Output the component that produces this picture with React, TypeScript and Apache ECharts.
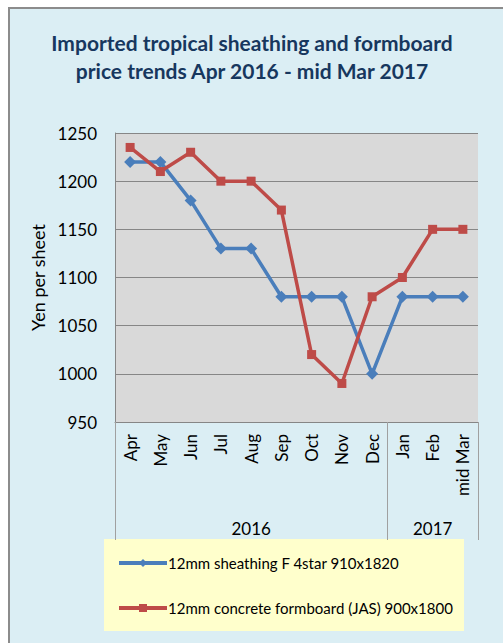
import React, { useEffect, useRef } from "react";
import * as echarts from "echarts";

const months = ["Apr", "May", "Jun", "Jul", "Aug", "Sep", "Oct", "Nov", "Dec", "Jan", "Feb", "mid Mar"];
const sheathing = [1220, 1220, 1180, 1130, 1130, 1080, 1080, 1080, 1000, 1080, 1080, 1080];
const formboard = [1235, 1210, 1230, 1200, 1200, 1170, 1020, 990, 1080, 1100, 1150, 1150];
const yearBreaks = [0, 9, 12];
const yearLabelPos = [4.5, 10.5];
const yearLabels = ["2016", "2017"];
const seriesNames = ["12mm sheathing F 4star 910x1820", "12mm concrete formboard (JAS) 900x1800"];
const titleText = "Imported tropical sheathing and formboard\nprice trends Apr 2016 - mid Mar 2017";
const yName = "Yen per sheet";

const FONT = "Lato";

export default function App() {
  const ref = useRef<HTMLDivElement>(null);
  useEffect(() => {
    if (!ref.current) return;
    const chart = echarts.init(ref.current, undefined, { renderer: "svg" });
    chart.setOption({
      animation: false,
      backgroundColor: "transparent",
      textStyle: { fontFamily: FONT },
      title: {
        text: titleText,
        left: 247,
        top: 23,
        textAlign: "center",
        textStyle: { fontFamily: FONT, fontSize: 21, fontWeight: "bold", color: "#17375E", lineHeight: 28, align: "center" },
      },
      graphic: [
        {
          type: "rect",
          z: 0,
          shape: { x: 104, y: 539, width: 360, height: 92 },
          style: { fill: "#FFFFCC", stroke: "none" },
        },
      ],
      legend: {
        orient: "vertical",
        left: 104,
        top: 539,
        padding: [14, 10, 13, 13],
        itemWidth: 48,
        itemHeight: 10,
        itemGap: 25,
        lineStyle: { width: 4 },
        textStyle: { fontFamily: FONT, fontSize: 15, color: "#000", lineHeight: 20, padding: [0, 0, 0, -4] },
        data: seriesNames,
      },
      grid: {
        left: 115,
        top: 133,
        width: 363,
        height: 289,
        show: true,
        backgroundColor: "#D9D9D9",
        borderWidth: 0,
      },
      xAxis: [
        {
          type: "category",
          data: months,
          boundaryGap: true,
          axisLine: { show: true, lineStyle: { color: "#868686", width: 1 } },
          axisTick: { show: false },
          axisLabel: { rotate: 90, margin: 12, fontFamily: FONT, fontSize: 17, color: "#000", interval: 0 },
          splitLine: { show: false },
        },
        {
          type: "value",
          min: 0,
          max: 12,
          position: "bottom",
          axisLine: { show: false },
          splitLine: { show: false },
          axisTick: {
            show: true,
            customValues: yearBreaks,
            length: 118,
            inside: false,
            lineStyle: { color: "#A0A0A0", width: 1 },
          },
          axisLabel: {
            show: true,
            customValues: yearLabelPos,
            margin: 98,
            fontFamily: FONT,
            fontSize: 17,
            color: "#000",
            formatter: (v: number) => yearLabels[v < yearBreaks[1] ? 0 : 1],
          },
        },
      ],
      yAxis: {
        type: "value",
        min: 950,
        max: 1250,
        interval: 50,
        name: yName,
        nameLocation: "middle",
        nameGap: 64,
        nameTextStyle: { fontFamily: FONT, fontSize: 18, color: "#000" },
        axisLine: { show: true, lineStyle: { color: "#868686", width: 1 } },
        axisTick: { show: false },
        axisLabel: { margin: 18, fontFamily: FONT, fontSize: 17, color: "#000", formatter: (v: number) => String(v) },
        splitLine: { show: true, lineStyle: { color: "#868686", width: 1 } },
      },
      series: [
        {
          name: seriesNames[0],
          type: "line",
          data: sheathing,
          symbol: "diamond",
          symbolSize: 12,
          lineStyle: { color: "#4A7EBB", width: 3.5 },
          itemStyle: { color: "#4A7EBB" },
          z: 3,
        },
        {
          name: seriesNames[1],
          type: "line",
          data: formboard,
          symbol: "rect",
          symbolSize: 9,
          lineStyle: { color: "#BE4B48", width: 3.5 },
          itemStyle: { color: "#BE4B48" },
          z: 4,
        },
      ],
    });
    return () => chart.dispose();
  }, []);

  return (
    <div style={{ position: "fixed", left: 0, top: 0, width: 503, height: 643, background: "#fff", overflow: "hidden" }}>
      <div
        style={{
          position: "absolute",
          left: 8,
          top: 7,
          width: 520,
          height: 660,
          border: "2px solid #8C8C8C",
          background: "#DBEEF4",
        }}
      />
      <div ref={ref} style={{ position: "absolute", left: 0, top: 0, width: 503, height: 643 }} />
    </div>
  );
}
